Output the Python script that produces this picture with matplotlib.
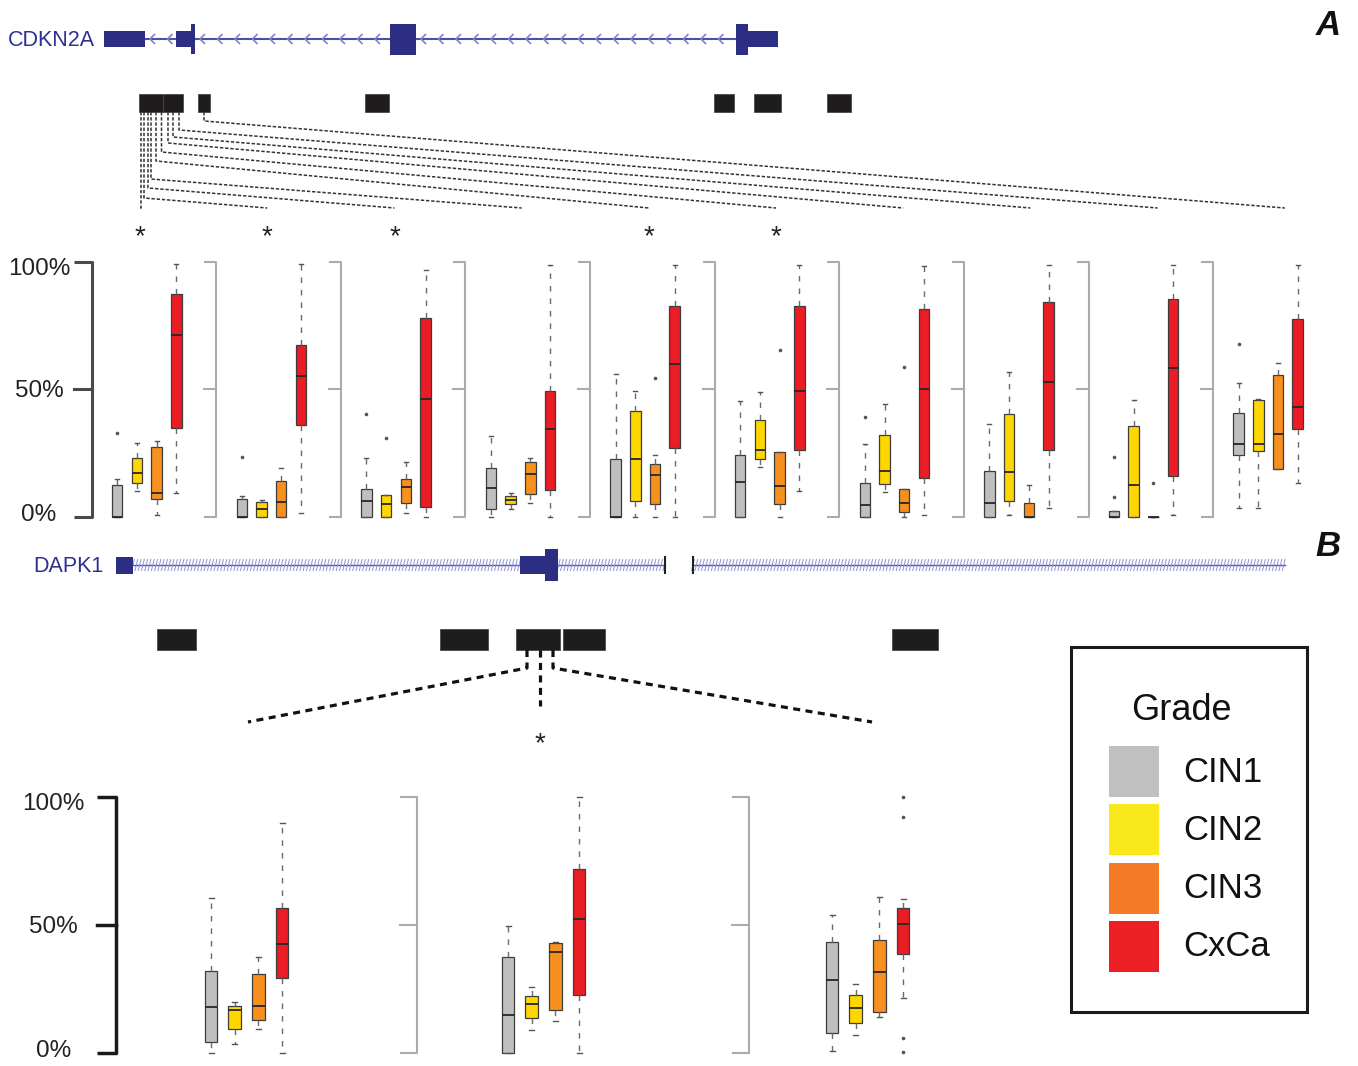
import matplotlib
matplotlib.use("Agg")
import matplotlib.pyplot as plt
from matplotlib.patches import Rectangle
from matplotlib.collections import LineCollection
import numpy as np

plt.rcParams['font.family'] = ['Liberation Sans', 'DejaVu Sans']

grades = ["CIN1", "CIN2", "CIN3", "CxCa"]
box_colors = ["#bfbfbf", "#ffd700", "#f7901e", "#ec1c24"]
legend_colors = ["#c0c0c0", "#f9e81c", "#f47a28", "#ec2024"]

# CDKN2A: 10 CpG sites x 4 grades, methylation %
a_lo = [[0, 10.2, 0.5, 9.4], [0, 0, 0, 1.3], [0, 0, 1.3, 0], [0, 3.1, 5.2, 0],
        [0, 0, 0, 0], [0, 19.6, 0, 10], [0, 9.8, 0, 0.7], [0, 0.7, 0, 3.3],
        [0, 0, 0, 0.7], [3.3, 3.3, 18.5, 13]]
a_q1 = [[0, 13.1, 6.8, 34.6], [0, 0, 0, 35.9], [0, 0, 5.2, 3.7], [2.9, 4.8, 8.8, 10.3],
        [0, 5.9, 4.8, 27.1], [0, 22.5, 5.1, 26], [0, 12.9, 1.6, 15], [0, 5.9, 0, 26.3],
        [0, 0, 0, 15.9], [24.1, 25.8, 18.5, 34.5]]
a_med = [[0, 17, 9.2, 71.2], [0, 3, 5.6, 55.2], [5.9, 5, 11.4, 46], [11.1, 6.5, 16.6, 34.2],
         [0, 22.5, 16.3, 60], [13.7, 26.1, 12, 49.3], [4.6, 17.9, 5.2, 50.1], [5.5, 17.3, 0, 52.7],
         [0, 12.4, 0, 58.2], [28.6, 28.6, 32.6, 43.2]]
a_q3 = [[12.2, 22.9, 27.5, 87.3], [6.9, 5.6, 14.1, 67.3], [10.8, 8.5, 14.6, 77.8], [19, 8.1, 21.6, 49.3],
        [22.5, 41.4, 20.8, 82.6], [24.2, 37.8, 25.4, 82.9], [13.3, 31.9, 10.7, 81.4], [17.8, 40.1, 5.5, 84.2],
        [2.2, 35.5, 0, 85.3], [40.8, 45.6, 55.5, 77.5]]
a_hi = [[14.6, 28.8, 29.8, 99.3], [8.2, 6.3, 19, 99.3], [22.9, 8.5, 21.6, 97], [31.6, 9.4, 23.1, 99],
        [55.8, 49.3, 24.2, 99], [45.4, 48.9, 25.4, 99], [28.4, 44.3, 10.7, 98.3], [36.5, 56.6, 12.4, 99],
        [2.2, 45.6, 0, 99], [52.3, 46.2, 60.5, 99]]
a_fliers = [[[33], [], [], []], [[23.3], [], [], []], [[40.1], [31], [], []], [[], [], [], []],
            [[], [], [54.5], []], [[], [], [65.6], []], [[39], [], [58.6], []], [[], [], [], []],
            [[23.4, 7.6], [], [13], []], [[67.7], [], [], []]]
a_signif = [0, 1, 2, 4, 5]

# DAPK1: 3 CpG sites x 4 grades
b_lo = [[0, 3.4, 9.3, 0], [0, 8.8, 12.3, 0], [0.6, 6.9, 14, 21.4]]
b_q1 = [[4, 9.3, 12.9, 29.3], [0, 13.6, 16.5, 22.4], [7.8, 11.4, 15.8, 38.7]]
b_med = [[17.8, 16.7, 18.2, 42.4], [14.7, 19.1, 39.2, 52.2], [28.3, 17.5, 31.4, 50.3]]
b_q3 = [[31.9, 18.2, 30.9, 56.6], [37.3, 22.3, 42.9, 71.7], [43.1, 22.7, 43.9, 56.7]]
b_hi = [[60.3, 19.7, 37.4, 89.7], [49.4, 25.7, 43.3, 100], [53.9, 27, 61, 60.1]]
b_fliers = [[[], [], [], []], [[], [], [], []], [[], [], [], [100, 92, 5.8, 0.2]]]

pct_ticks = [0, 50, 100]
pct_labels = ["0%", "50%", "100%"]

W, H = 1358, 1066
navy = "#2b2e83"
fig = plt.figure(figsize=(W / 100, H / 100), dpi=100)
ax0 = fig.add_axes([0, 0, 1, 1])
ax0.set_xlim(0, W)
ax0.set_ylim(H, 0)
ax0.axis('off')


def panel_axes(y0, y100):
    ax = fig.add_axes([0, 1 - y0 / H, 1, (y0 - y100) / H])
    ax.set_xlim(0, W)
    ax.set_ylim(0, 100)
    ax.axis('off')
    return ax


axA = panel_axes(516.5, 262)
axB = panel_axes(1052.5, 797)


def bracket(ax, x, tlen, color, lw):
    ax.plot([x - tlen, x, x, x - tlen], [0, 0, 100, 100], color=color, lw=lw,
            clip_on=False, solid_capstyle='butt')
    ax.plot([x - tlen, x], [50, 50], color=color, lw=lw, clip_on=False)


def boxes(ax, x_first, step, width, capw, lo, q1, med, q3, hi, fl):
    stats = [dict(whislo=lo[k], q1=q1[k], med=med[k], q3=q3[k], whishi=hi[k],
                  fliers=fl[k]) for k in range(4)]
    pos = [x_first + step * k for k in range(4)]
    art = ax.bxp(stats, positions=pos, widths=width, capwidths=capw,
                 patch_artist=True, manage_ticks=False,
                 boxprops=dict(edgecolor='#3c3c3c', linewidth=0.9),
                 medianprops=dict(color='#262626', linewidth=1.3),
                 whiskerprops=dict(color='#6a6a6a', linewidth=1.0, linestyle=(0, (4, 5))),
                 capprops=dict(color='#555555', linewidth=1.0),
                 flierprops=dict(marker='o', markersize=1.6, markerfacecolor='#555555',
                                 markeredgecolor='#555555'))
    for patch, c in zip(art['boxes'], box_colors):
        patch.set_facecolor(c)
    for items in art.values():
        for it in items:
            it.set_clip_on(False)


# ---- panel A boxes
a_step = 124.6
for g in range(10):
    bx = 91.7 + a_step * g
    if g == 0:
        bracket(axA, bx, 18, '#4a4a4a', 2.2)
    else:
        bracket(axA, bx, 12, '#ababab', 1.5)
    boxes(axA, bx + 25.5, 19.7, 10.5, 4, a_lo[g], a_q1[g], a_med[g], a_q3[g], a_hi[g], a_fliers[g])

for v, lab, yy in zip(pct_ticks, pct_labels, [515, 391, 269]):
    ax0.text(39, yy, lab, ha='center', va='center', fontsize=17.5, color='#222222')

# ---- panel B boxes
b_brackets = [116, 417, 748.5]
b_first = [211, 508, 832]
for g in range(3):
    if g == 0:
        bracket(axB, b_brackets[g], 19, '#1a1a1a', 2.5)
    else:
        bracket(axB, b_brackets[g], 17, '#ababab', 1.5)
    boxes(axB, b_first[g], 23.7, 12.5, 5, b_lo[g], b_q1[g], b_med[g], b_q3[g], b_hi[g], b_fliers[g])

for v, lab, yy in zip(pct_ticks, pct_labels, [1051, 927, 804]):
    ax0.text(53.5, yy, lab, ha='center', va='center', fontsize=17.5, color='#222222')

# ---- CDKN2A gene track
yc = 39
ax0.plot([145, 740], [yc, yc], color='#4b4fa6', lw=1.5)
chev = []
for a, b in [(145, 176), (195, 390), (416, 736)]:
    for x in np.arange(a + 5, b - 6, 17.5):
        chev.append([(x + 5, yc - 5), (x, yc), (x + 5, yc + 5)])
ax0.add_collection(LineCollection(chev, colors='#7d82c9', linewidths=1.2))
for x0, x1, h in [(104, 145, 16), (176, 191, 16), (191, 195, 30), (390, 416, 31),
                  (736, 748, 31), (748, 778, 16)]:
    ax0.add_patch(Rectangle((x0, yc - h / 2), x1 - x0, h, color=navy, lw=0, zorder=3))
ax0.text(8, yc + 1, "CDKN2A", ha='left', va='center', fontsize=15.5, color='#2e3192')

for x0, x1 in [(139, 163), (163, 183), (198, 210), (365, 389), (714, 734), (754, 781), (827, 851)]:
    ax0.add_patch(Rectangle((x0, 94), x1 - x0, 18, facecolor='#1e1c1c', edgecolor='#4a4a4a', lw=0.6))

# connectors from CpG sites to box groups
start_x = [141, 144, 148, 151, 156, 161.5, 168, 173, 179, 204]
turn_y = [208, 198, 188, 179, 161, 152, 143, 137, 130, 121]
for g in range(10):
    ex = 140 + 127.2 * g
    ax0.plot([start_x[g], start_x[g], ex], [112, turn_y[g], 208], color='#333333', lw=1.1,
             linestyle=(0, (2.2, 1.2)))
for g in a_signif:
    ax0.text(140 + 127.2 * g, 244, "*", ha='center', va='baseline', fontsize=20, color='#222222')

# ---- DAPK1 gene track
yd = 565
hatch = []
for a, b in [(133, 665), (693, 1285)]:
    for x in np.arange(a, b, 3.3):
        hatch.append([(x - 1.5, yd + 6), (x + 1.5, yd - 6)])
    ax0.plot([a, b], [yd, yd], color='#4b4fa6', lw=1.0)
ax0.add_collection(LineCollection(hatch, colors='#8e92d4', linewidths=0.7))
for x0, x1, h in [(116, 133, 17), (520, 545, 18), (545, 558, 32)]:
    ax0.add_patch(Rectangle((x0, yd - h / 2), x1 - x0, h, color=navy, lw=0, zorder=3))
for x in [665, 693]:
    ax0.plot([x, x], [yd - 8, yd + 8], color='#222222', lw=1.5)
ax0.text(33, yd + 1, "DAPK1", ha='left', va='center', fontsize=15.5, color='#2e3192')

for x0, x1 in [(157, 196), (440, 488), (516, 560), (563, 605), (892, 938)]:
    ax0.add_patch(Rectangle((x0, 629), x1 - x0, 21, facecolor='#1e1c1c', edgecolor='#4a4a4a', lw=0.6))

dash_b = dict(color='#111111', lw=2.3, linestyle=(0, (2.2, 1.7)))
ax0.plot([527, 527, 248], [650, 668, 722], **dash_b)
ax0.plot([553, 553, 872], [650, 668, 722], **dash_b)
ax0.plot([540, 540], [650, 706], **dash_b)
ax0.text(540, 751, "*", ha='center', va='baseline', fontsize=20, color='#222222')

# panel letters
ax0.text(1328, 35, "A", ha='center', va='baseline', fontsize=25, fontweight='bold',
         fontstyle='italic', color='#111111')
ax0.text(1328, 556, "B", ha='center', va='baseline', fontsize=25, fontweight='bold',
         fontstyle='italic', color='#111111')

# ---- legend
ax0.add_patch(Rectangle((1071, 647), 236, 365, facecolor='none', edgecolor='#1a1a1a', lw=2.2))
ax0.text(1181, 710, "Grade", ha='center', va='center', fontsize=26, color='#111111')
for i, (lab, c) in enumerate(zip(grades, legend_colors)):
    y = 746 + 58.3 * i
    ax0.add_patch(Rectangle((1109, y), 50, 51, color=c, lw=0))
    ax0.text(1183, y + 26, lab, ha='left', va='center', fontsize=25, color='#111111')

fig.savefig("out.png", dpi=100, facecolor='white')
